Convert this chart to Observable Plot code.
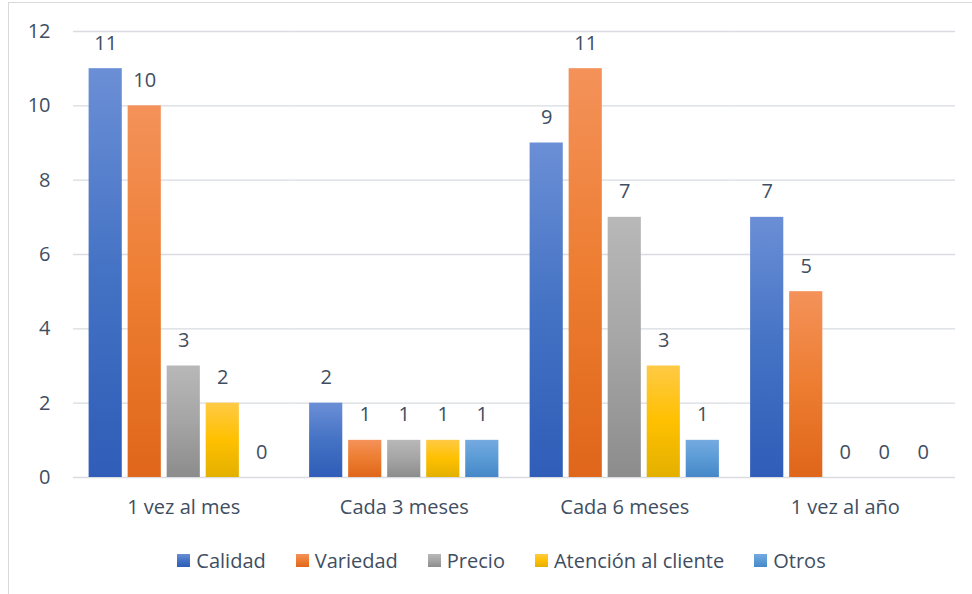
<!DOCTYPE html>
<html>
<head>
<meta charset="utf-8">
<script src="https://cdn.jsdelivr.net/npm/d3@7"></script>
<script src="https://cdn.jsdelivr.net/npm/@observablehq/plot@0.6"></script>
<style>
  html, body { margin: 0; padding: 0; background: #fff; overflow: hidden; }
  body { width: 972px; height: 594px; position: relative; font-family: 'Open Sans', sans-serif; }
  #frame { position: absolute; left: 8px; top: 2px; width: 990px; height: 620px; border: 1px solid #d9d9d9; box-sizing: border-box; }
  #chart { position: absolute; left: 0; top: 0; }
  #legend { position: absolute; left: 0; top: 547px; width: 1003px; display: flex; justify-content: center; align-items: center; gap: 30px; font-size: 20px; color: #404e62; }
  .item { display: flex; align-items: center; }
  .sw { width: 13px; height: 13px; margin-right: 6px; }
</style>
</head>
<body>
<div id="frame"></div>
<div id="chart"></div>
<div id="legend"></div>
<script>
const categories = ["1 vez al mes", "Cada 3 meses", "Cada 6 meses", "1 vez al año"];
const seriesNames = ["Calidad", "Variedad", "Precio", "Atención al cliente", "Otros"];
const calidad = [11, 2, 9, 7];
const variedad = [10, 1, 11, 5];
const precio = [3, 1, 7, 0];
const atencion = [2, 1, 3, 0];
const otros = [0, 1, 1, 0];
const yTicks = [0, 2, 4, 6, 8, 10, 12];

const seriesValues = [calidad, variedad, precio, atencion, otros];
const gradients = [
  ["#6b8fd6", "#4472c4", "#2f5db8"],
  ["#f4925a", "#ed7d31", "#df661a"],
  ["#b8b8b8", "#a5a5a5", "#8c8c8c"],
  ["#ffca45", "#ffc000", "#e3b000"],
  ["#75aae1", "#5b9bd5", "#4587c9"]
];

const data = [];
categories.forEach((c, ci) => {
  seriesNames.forEach((s, si) => {
    data.push({cat: c, series: s, si, value: seriesValues[si][ci]});
  });
});

const textColor = "#404e62";

const chart = Plot.plot({
  width: 972,
  height: 535,
  marginTop: 31,
  marginBottom: 58,
  marginLeft: 73,
  marginRight: 17,
  style: {fontFamily: "'Open Sans', sans-serif", fontSize: "20px", color: textColor, background: "transparent"},
  fx: {domain: categories, padding: 0, round: false, label: null},
  x: {domain: seriesNames, paddingInner: 0.15, paddingOuter: 0.4, round: false, axis: null},
  y: {domain: [0, 12], label: null},
  color: {type: "identity"},
  marks: [
    Plot.gridY(yTicks, {stroke: "#d9dce1", strokeOpacity: 1, strokeWidth: 1.3}),
    Plot.axisY(yTicks, {tickSize: 0, tickPadding: 23, label: null, fill: textColor, fontSize: 20}),
    Plot.axisFx({anchor: "bottom", tickSize: 0, tickPadding: 22, label: null, fill: textColor, fontSize: 20}),
    Plot.barY(data, {fx: "cat", x: "series", y: "value", fill: d => `url(#grad${d.si})`}),
    Plot.text(data, {fx: "cat", x: "series", y: "value", text: d => String(d.value), lineAnchor: "bottom", dy: -19, fill: textColor, fontSize: 20})
  ]
});

const svg = d3.select(chart);
const defs = svg.insert("defs", ":first-child");
gradients.forEach((g, i) => {
  const lg = defs.append("linearGradient").attr("id", `grad${i}`).attr("x1", 0).attr("y1", 0).attr("x2", 0).attr("y2", 1);
  lg.append("stop").attr("offset", "0%").attr("stop-color", g[0]);
  lg.append("stop").attr("offset", "50%").attr("stop-color", g[1]);
  lg.append("stop").attr("offset", "100%").attr("stop-color", g[2]);
});
document.getElementById("chart").appendChild(chart);

const legend = d3.select("#legend");
seriesNames.forEach((s, i) => {
  const it = legend.append("div").attr("class", "item");
  it.append("div").attr("class", "sw")
    .style("background", `linear-gradient(to bottom, ${gradients[i][0]}, ${gradients[i][1]} 50%, ${gradients[i][2]})`);
  it.append("span").text(s);
});
</script>
</body>
</html>
